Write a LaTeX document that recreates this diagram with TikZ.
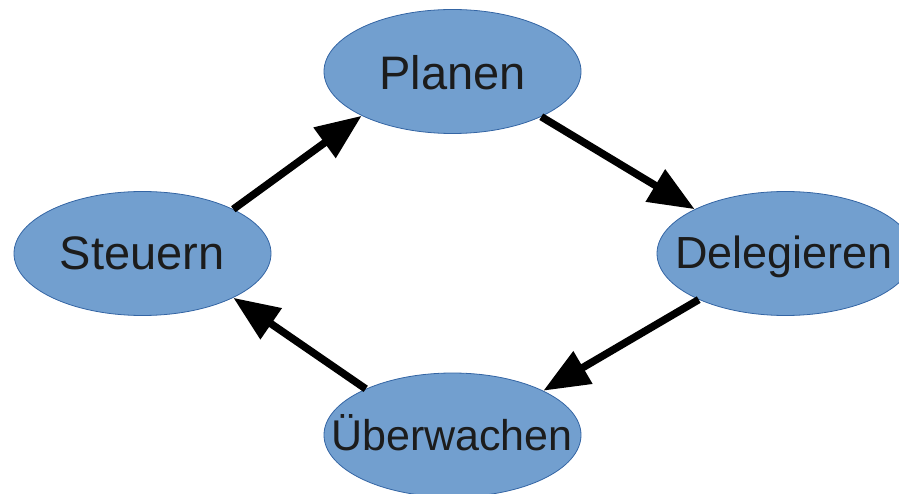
\documentclass[tikz,border=0pt]{standalone}
\usepackage{fontspec}
\setmainfont{Liberation Sans}
\usetikzlibrary{shapes.geometric,arrows.meta}
\definecolor{ellfill}{HTML}{729FCF}
\definecolor{elldraw}{HTML}{3465A4}
\definecolor{txt}{HTML}{1C1C1C}
\begin{document}
\begin{tikzpicture}[x=1pt,y=1pt,
  ell/.style={ellipse,draw=elldraw,line width=0.8pt,fill=ellfill,minimum width=257pt,minimum height=124pt,inner sep=0pt},
  lbl/.style={anchor=base,inner sep=0pt,text=txt},
  conn/.style={line width=7.5pt,-{Triangle[length=46pt,width=36pt]}}]
\useasboundingbox (0,0) rectangle (899,493);
\node[ell] (pl) at (452.5,421.5) {};
\node[ell] (st) at (142.5,239.5) {};
\node[ell] (de) at (785.5,239.5) {};
\node[ell] (ue) at (452.5,58) {};
\node[lbl,font=\fontsize{47}{51}\selectfont] (plt) at (452.5,403) {Planen};
\node[lbl,font=\fontsize{47}{51}\selectfont] (stt) at (142,223) {Steuern};
\node[lbl,font=\fontsize{45}{49}\selectfont] (det) at (784,224) {Delegieren};
\node[lbl,font=\fontsize{43}{47}\selectfont] (uet) at (452,43) {Überwachen};
\draw[conn] (st.26) -- (pl.206);
\draw[conn] (pl.333) -- (de.154);
\draw[conn] (de.208) -- (ue.26);
\draw[conn] (ue.152) -- (st.334);
\end{tikzpicture}
\end{document}
